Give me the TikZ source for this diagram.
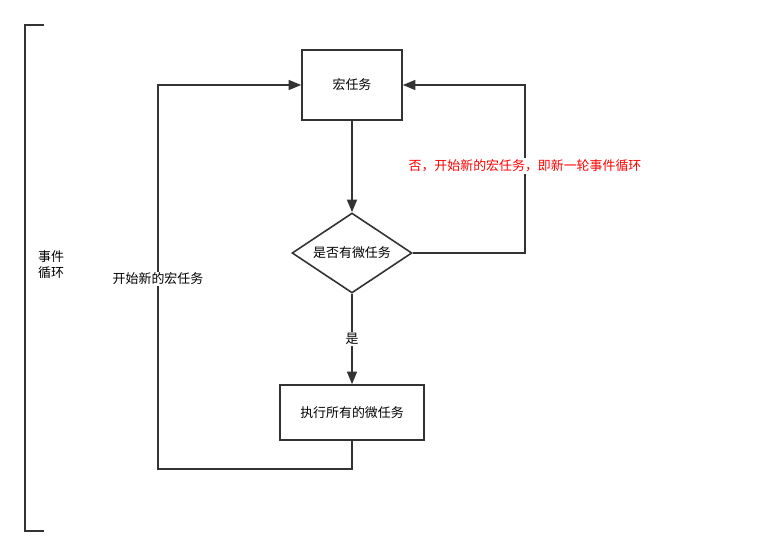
\documentclass[tikz,border=0pt]{standalone}
\usepackage{fontspec}
\setmainfont{Noto Sans CJK SC}
\usetikzlibrary{shapes.geometric,arrows.meta}

\tikzset{
  flowline/.style={draw=black!80, line width=1.2pt},
  flowbox/.style={draw=black!80, line width=1.2pt, rectangle, inner sep=0pt, font=\fontsize{9.7}{12}\selectfont},
  flowdiamond/.style={draw=black!80, line width=1.2pt, diamond, aspect=1.5, inner sep=0pt,
    minimum width=90pt, minimum height=60pt, font=\fontsize{9.7}{12}\selectfont},
  flowlabel/.style={fill=white, inner sep=1pt, font=\fontsize{9.7}{12}\selectfont},
  arrowtip/.style={-{Triangle[length=9.5pt,width=7.5pt]}}
}

\begin{document}
\begin{tikzpicture}[x=0.75pt, y=-0.75pt]
  \useasboundingbox (0,0) rectangle (767,557);

  % Left bracket for the loop
  \draw[flowline] (44,25) -- (25,25) -- (25,531) -- (44,531);
  \node[align=left, inner sep=0pt, font=\fontsize{9.7}{12}\selectfont] (loop) at (51,265) {事件\\循环};

  % Nodes
  \node[flowbox, minimum width=75pt, minimum height=52.5pt] (macro) at (352,85) {宏任务};
  \node[flowdiamond] (check) at (352,253) {是否有微任务};
  \node[flowbox, minimum width=108pt, minimum height=41.25pt] (micro) at (352,412.5) {执行所有的微任务};

  % Connectors
  \draw[flowline, arrowtip] (macro) -- (check);
  \draw[flowline, arrowtip] (check) -- node[flowlabel] (yes) {是} (micro);
  \draw[flowline, arrowtip] (check.east) -- (525,253) -- (525,85) -- (macro.east);
  \draw[flowline, arrowtip] (micro.south) -- (352,469) -- (158,469) -- (158,85) -- (macro.west);

  % Edge labels
  \node[flowlabel, text=red] (no) at (525,166) {否，开始新的宏任务，即新一轮事件循环};
  \node[flowlabel] (next) at (158,279) {开始新的宏任务};
\end{tikzpicture}
\end{document}
